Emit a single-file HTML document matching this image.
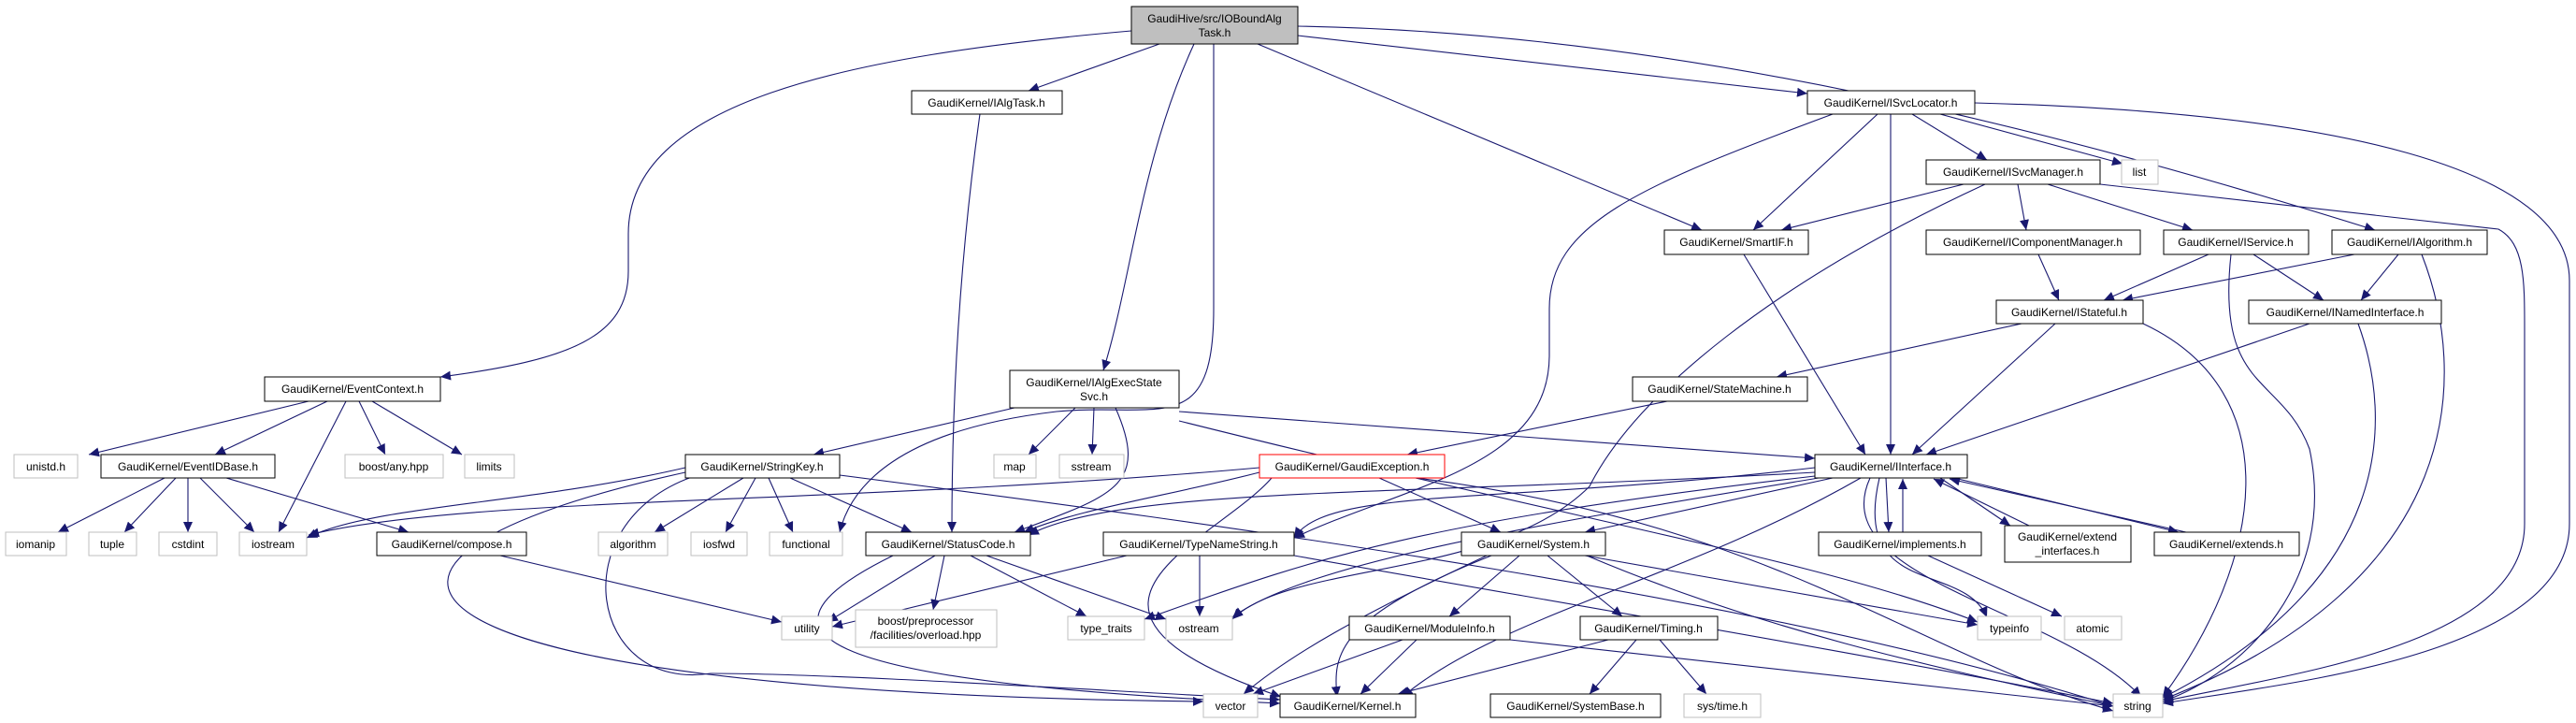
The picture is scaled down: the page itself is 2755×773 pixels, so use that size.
<!DOCTYPE html>
<html><head><meta charset="utf-8"><style>
html,body{margin:0;padding:0;background:#fff;}
svg{display:block;}
text{font-family:"Liberation Sans",sans-serif;font-size:12px;fill:#000;text-anchor:middle;}
.e{fill:none;stroke:#191970;stroke-width:1.1;marker-end:url(#a);}
.b{fill:#fff;stroke:#000;stroke-width:1;}
.g{fill:#fff;stroke:#bfbfbf;stroke-width:1;}
</style></head><body>
<svg width="2755" height="773" viewBox="0 0 2755 773" xmlns="http://www.w3.org/2000/svg">
<defs><marker id="a" markerUnits="userSpaceOnUse" markerWidth="12" markerHeight="10" refX="11" refY="5" orient="auto"><path d="M0,0 L11,5 L0,10 Z" fill="#191970"/></marker></defs>
<g>
<!-- root edges -->
<path class="e" d="M1210,33 C900,60 672,110 672,250 L672,290 C672,360 610,385 471,403"/>
<path class="e" d="M1240,47 L1100,97"/>
<path class="e" d="M1277,47 C1220,170 1210,300 1180,396"/>
<path class="e" d="M1298,47 L1298,330 C1298,470 1240,430 1130,440 C960,460 910,520 898,569"/>
<path class="e" d="M1345,47 L1820,246"/>
<path class="e" d="M1388,38 L1933,100"/>
<path class="e" d="M1388,28 C1800,35 2200,140 2540,246"/>
<!-- IAlgTask -->
<path class="e" d="M1048,122 C1030,250 1018,400 1018,569"/>
<!-- EventContext -->
<path class="e" d="M330,429 L95,486"/>
<path class="e" d="M350,429 L230,486"/>
<path class="e" d="M370,429 L298,569"/>
<path class="e" d="M384,429 L412,486"/>
<path class="e" d="M398,429 L494,486"/>
<!-- EventIDBase -->
<path class="e" d="M176,511 L62,569"/>
<path class="e" d="M188,511 L133,569"/>
<path class="e" d="M201,511 L201,569"/>
<path class="e" d="M214,511 L272,569"/>
<path class="e" d="M242,511 L437,569"/>
<!-- IAlgExecStateSvc -->
<path class="e" d="M1085,436 L870,486"/>
<path class="e" d="M1150,436 L1100,486"/>
<path class="e" d="M1170,436 L1168,486"/>
<path class="e" d="M1193,436 C1230,520 1190,530 1085,569"/>
<path class="e" d="M1261,440 L1941,490"/>
<path class="e" d="M1261,450 C1700,560 1950,600 2115,665"/>
<!-- StringKey -->
<path class="e" d="M733,500 C560,540 400,540 328,575"/>
<path class="e" d="M733,505 C300,600 380,740 1287,750"/>
<path class="e" d="M740,510 C600,560 630,740 760,720 C900,720 1200,740 1369,748"/>
<path class="e" d="M795,511 L700,569"/>
<path class="e" d="M808,511 L776,569"/>
<path class="e" d="M822,511 L848,569"/>
<path class="e" d="M845,511 L975,569"/>
<path class="e" d="M898,508 C1300,560 1900,640 2260,755"/>
<!-- compose -->
<path class="e" d="M535,594 L836,665"/>
<!-- StatusCode -->
<path class="e" d="M1000,594 L885,665"/>
<path class="e" d="M1010,594 L998,652"/>
<path class="e" d="M1038,594 L1162,659"/>
<path class="e" d="M1055,594 L1247,662"/>
<path class="e" d="M955,594 C780,680 880,730 1369,752"/>
<!-- TypeNameString -->
<path class="e" d="M1205,594 L890,670"/>
<path class="e" d="M1283,594 L1283,659"/>
<path class="e" d="M1384,594 C1700,650 2000,700 2260,752"/>
<!-- GaudiException -->
<path class="e" d="M1347,500 C900,540 500,530 330,572"/>
<path class="e" d="M1347,505 C1250,530 1150,545 1095,569"/>
<path class="e" d="M1360,511 C1300,580 1090,650 1370,745"/>
<path class="e" d="M1475,511 L1605,569"/>
<path class="e" d="M1515,511 C1900,560 2050,700 2260,760"/>
<!-- StateMachine -->
<path class="e" d="M1783,429 L1505,486"/>
<!-- IInterface -->
<path class="e" d="M1941,505 C1500,530 1200,520 1100,572"/>
<path class="e" d="M1941,500 C1600,540 1420,520 1384,575"/>
<path class="e" d="M1960,511 L1695,569"/>
<path class="e" d="M1990,511 C1800,620 1600,660 1500,745"/>
<path class="e" d="M2017,511 L2020,569"/>
<path class="e" d="M2000,511 C1950,620 2200,650 2290,745"/>
<path class="e" d="M2010,511 C1980,640 2100,600 2125,660"/>
<path class="e" d="M1945,511 C1650,560 1400,600 1318,660"/>
<path class="e" d="M1941,509 C1500,560 1400,600 1224,662"/>
<!-- implements / extends -->
<path class="e" d="M2035,569 L2035,512"/>
<path class="e" d="M2062,594 L2205,659"/>
<path class="e" d="M2170,562 L2068,512"/>
<path class="e" d="M2075,511 L2150,562"/>
<path class="e" d="M2338,569 L2085,512"/>
<path class="e" d="M2090,511 L2330,569"/>
<!-- System -->
<path class="e" d="M1625,594 L1550,659"/>
<path class="e" d="M1655,594 L1735,659"/>
<path class="e" d="M1595,594 C1430,660 1425,700 1430,745"/>
<path class="e" d="M1590,594 C1450,660 1380,700 1330,742"/>
<path class="e" d="M1697,594 C1900,680 2100,720 2260,755"/>
<path class="e" d="M1695,594 L2115,668"/>
<!-- ModuleInfo -->
<path class="e" d="M1515,684 L1455,742"/>
<path class="e" d="M1500,684 L1340,742"/>
<path class="e" d="M1615,684 L2260,755"/>
<!-- Timing -->
<path class="e" d="M1720,684 L1495,742"/>
<path class="e" d="M1750,684 L1700,742"/>
<path class="e" d="M1775,684 L1825,742"/>
<!-- ISvcLocator -->
<path class="e" d="M2008,122 L1875,246"/>
<path class="e" d="M2045,122 L2125,171"/>
<path class="e" d="M2075,122 L2270,175"/>
<path class="e" d="M2022,122 L2022,486"/>
<path class="e" d="M2112,110 C2500,120 2748,180 2748,300 L2748,560 C2748,700 2450,730 2313,752"/>
<path class="e" d="M1960,122 C1750,200 1657,240 1657,330 L1657,380 C1657,500 1500,520 1384,575"/>
<!-- ISvcManager -->
<path class="e" d="M2100,197 L1905,246"/>
<path class="e" d="M2158,197 L2167,246"/>
<path class="e" d="M2190,197 L2345,246"/>
<path class="e" d="M2246,197 L2672,245 C2700,260 2700,300 2700,350 L2700,560 C2700,690 2450,720 2313,750"/>
<path class="e" d="M2123,197 C1900,300 1750,420 1700,520 C1600,620 1380,600 1318,662"/>
<!-- IComponentManager / IService / IAlgorithm -->
<path class="e" d="M2180,272 L2202,321"/>
<path class="e" d="M2362,272 L2250,321"/>
<path class="e" d="M2410,272 L2485,321"/>
<path class="e" d="M2386,272 C2370,420 2440,400 2470,480 C2500,620 2400,720 2313,750"/>
<path class="e" d="M2518,272 L2270,321"/>
<path class="e" d="M2565,272 L2525,321"/>
<path class="e" d="M2590,272 C2640,400 2640,620 2313,748"/>
<!-- IStateful / INamedInterface / SmartIF -->
<path class="e" d="M2162,346 L1900,403"/>
<path class="e" d="M2198,346 L2045,486"/>
<path class="e" d="M2292,346 C2450,420 2420,600 2313,745"/>
<path class="e" d="M2470,346 L2060,486"/>
<path class="e" d="M2522,346 C2560,450 2560,620 2313,746"/>
<path class="e" d="M1865,272 L1995,486"/>
</g>
<!-- nodes -->
<rect x="1210" y="7" width="178" height="40" fill="#bfbfbf" stroke="#000"/>
<text x="1299" y="24">GaudiHive/src/IOBoundAlg</text><text x="1299" y="39">Task.h</text>

<rect class="b" x="975" y="97" width="161" height="25"/><text x="1055" y="114">GaudiKernel/IAlgTask.h</text>
<rect class="b" x="1080" y="396" width="181" height="40"/><text x="1170" y="413">GaudiKernel/IAlgExecState</text><text x="1170" y="428">Svc.h</text>
<rect class="b" x="283" y="403" width="188" height="26"/><text x="377" y="420">GaudiKernel/EventContext.h</text>
<rect class="g" x="15" y="486" width="68" height="25"/><text x="49" y="503">unistd.h</text>
<rect class="b" x="108" y="486" width="186" height="25"/><text x="201" y="503">GaudiKernel/EventIDBase.h</text>
<rect class="g" x="369" y="486" width="105" height="25"/><text x="421" y="503">boost/any.hpp</text>
<rect class="g" x="497" y="486" width="53" height="25"/><text x="523" y="503">limits</text>
<rect class="b" x="733" y="486" width="165" height="25"/><text x="815" y="503">GaudiKernel/StringKey.h</text>
<rect class="g" x="1063" y="486" width="45" height="25"/><text x="1085" y="503">map</text>
<rect class="g" x="1133" y="486" width="69" height="25"/><text x="1167" y="503">sstream</text>
<rect x="1347" y="486" width="198" height="25" fill="#fff" stroke="#ff0000"/><text x="1446" y="503">GaudiKernel/GaudiException.h</text>
<rect class="b" x="1746" y="403" width="187" height="26"/><text x="1839" y="420">GaudiKernel/StateMachine.h</text>
<rect class="b" x="1941" y="486" width="163" height="25"/><text x="2022" y="503">GaudiKernel/IInterface.h</text>

<rect class="g" x="6" y="569" width="65" height="25"/><text x="38" y="586">iomanip</text>
<rect class="g" x="95" y="569" width="51" height="25"/><text x="120" y="586">tuple</text>
<rect class="g" x="170" y="569" width="62" height="25"/><text x="201" y="586">cstdint</text>
<rect class="g" x="256" y="569" width="72" height="25"/><text x="292" y="586">iostream</text>
<rect class="b" x="403" y="569" width="160" height="25"/><text x="483" y="586">GaudiKernel/compose.h</text>
<rect class="g" x="640" y="569" width="74" height="25"/><text x="677" y="586">algorithm</text>
<rect class="g" x="739" y="569" width="60" height="25"/><text x="769" y="586">iosfwd</text>
<rect class="g" x="823" y="569" width="78" height="25"/><text x="862" y="586">functional</text>
<rect class="b" x="926" y="569" width="176" height="25"/><text x="1014" y="586">GaudiKernel/StatusCode.h</text>
<rect class="b" x="1180" y="569" width="204" height="25"/><text x="1282" y="586">GaudiKernel/TypeNameString.h</text>
<rect class="b" x="1563" y="569" width="154" height="25"/><text x="1640" y="586">GaudiKernel/System.h</text>
<rect class="b" x="1945" y="569" width="174" height="25"/><text x="2032" y="586">GaudiKernel/implements.h</text>
<rect class="b" x="2144" y="562" width="135" height="39"/><text x="2211" y="578">GaudiKernel/extend</text><text x="2211" y="593">_interfaces.h</text>
<rect class="b" x="2304" y="569" width="155" height="25"/><text x="2381" y="586">GaudiKernel/extends.h</text>

<rect class="g" x="836" y="659" width="54" height="25"/><text x="863" y="676">utility</text>
<rect class="g" x="915" y="652" width="151" height="40"/><text x="990" y="668">boost/preprocessor</text><text x="990" y="683">/facilities/overload.hpp</text>
<rect class="g" x="1142" y="659" width="82" height="25"/><text x="1183" y="676">type_traits</text>
<rect class="g" x="1247" y="659" width="71" height="25"/><text x="1282" y="676">ostream</text>
<rect class="b" x="1443" y="659" width="172" height="25"/><text x="1529" y="676">GaudiKernel/ModuleInfo.h</text>
<rect class="b" x="1690" y="659" width="147" height="25"/><text x="1763" y="676">GaudiKernel/Timing.h</text>
<rect class="g" x="2115" y="659" width="68" height="25"/><text x="2149" y="676">typeinfo</text>
<rect class="g" x="2208" y="659" width="61" height="25"/><text x="2238" y="676">atomic</text>

<rect class="g" x="1287" y="742" width="58" height="25"/><text x="1316" y="759">vector</text>
<rect class="b" x="1369" y="742" width="145" height="25"/><text x="1441" y="759">GaudiKernel/Kernel.h</text>
<rect class="b" x="1594" y="742" width="182" height="25"/><text x="1685" y="759">GaudiKernel/SystemBase.h</text>
<rect class="g" x="1801" y="742" width="82" height="25"/><text x="1842" y="759">sys/time.h</text>
<rect class="g" x="2260" y="742" width="53" height="25"/><text x="2286" y="759">string</text>

<rect class="b" x="1933" y="97" width="179" height="25"/><text x="2022" y="114">GaudiKernel/ISvcLocator.h</text>
<rect class="b" x="2060" y="171" width="186" height="26"/><text x="2153" y="188">GaudiKernel/ISvcManager.h</text>
<rect class="g" x="2269" y="171" width="39" height="26"/><text x="2288" y="188">list</text>
<rect class="b" x="1780" y="246" width="154" height="26"/><text x="1857" y="263">GaudiKernel/SmartIF.h</text>
<rect class="b" x="2060" y="246" width="229" height="26"/><text x="2174" y="263">GaudiKernel/IComponentManager.h</text>
<rect class="b" x="2314" y="246" width="155" height="26"/><text x="2391" y="263">GaudiKernel/IService.h</text>
<rect class="b" x="2494" y="246" width="166" height="26"/><text x="2577" y="263">GaudiKernel/IAlgorithm.h</text>
<rect class="b" x="2135" y="321" width="157" height="25"/><text x="2213" y="338">GaudiKernel/IStateful.h</text>
<rect class="b" x="2405" y="321" width="206" height="25"/><text x="2508" y="338">GaudiKernel/INamedInterface.h</text>
</svg>
</body></html>
